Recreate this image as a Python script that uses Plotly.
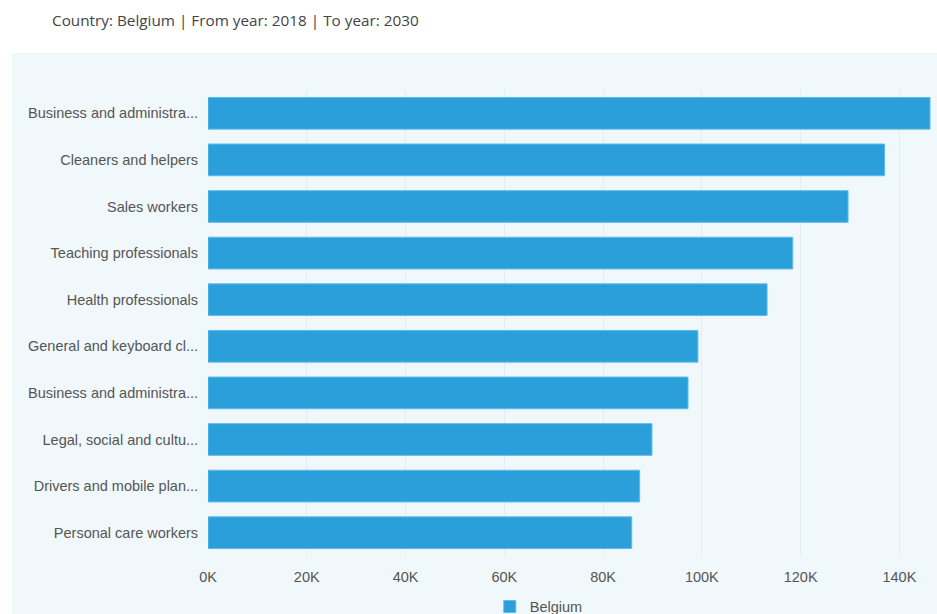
import plotly.graph_objects as go

# Occupations (full names) and the shortened labels shown on the axis
occupations = [
    "Business and administration associate professionals",
    "Cleaners and helpers",
    "Sales workers",
    "Teaching professionals",
    "Health professionals",
    "General and keyboard clerks",
    "Business and administration professionals",
    "Legal, social and cultural professionals",
    "Drivers and mobile plant operators",
    "Personal care workers",
]
labels = [
    "Business and administra...",
    "Cleaners and helpers",
    "Sales workers",
    "Teaching professionals",
    "Health professionals",
    "General and keyboard cl...",
    "Business and administra...",
    "Legal, social and cultu...",
    "Drivers and mobile plan...",
    "Personal care workers",
]
# Job openings, Belgium 2018-2030
openings = [146200, 137000, 129600, 118400, 113200, 99200, 97200, 89900, 87400, 85800]

x_ticks = [0, 20000, 40000, 60000, 80000, 100000, 120000, 140000]
x_ticklabels = ["0K", "20K", "40K", "60K", "80K", "100K", "120K", "140K"]

panel_bg = "#f1f8fc"
bar_color = "#2a9fda"
label_font = "Liberation Sans, Arial, sans-serif"

fig = go.Figure(
    go.Bar(
        x=openings,
        y=occupations,
        orientation="h",
        name="Belgium",
        marker=dict(color=bar_color, line=dict(color="#5fbbe8", width=1)),
        width=0.68,
    )
)

fig.update_layout(
    width=937,
    height=614,
    margin=dict(l=208, r=5, t=90, b=58, autoexpand=False),
    paper_bgcolor="white",
    plot_bgcolor=panel_bg,
    font=dict(family=label_font, size=14.5, color="#555555"),
    showlegend=True,
    legend=dict(
        orientation="h",
        xref="container",
        yref="container",
        x=0.575,
        xanchor="center",
        y=0.012,
        yanchor="middle",
        bgcolor="rgba(0,0,0,0)",
        font=dict(family=label_font, size=14.5, color="#555555"),
    ),
    shapes=[
        dict(
            type="rect",
            xref="paper",
            yref="paper",
            x0=-0.2707,
            x1=1.01,
            y0=-0.3,
            y1=1.0794,
            fillcolor=panel_bg,
            line=dict(width=0),
            layer="below",
        )
    ],
    annotations=[
        dict(
            text="Country: Belgium | From year: 2018 | To year: 2030",
            xref="paper",
            yref="paper",
            x=-0.218,
            y=1.150,
            xanchor="left",
            yanchor="middle",
            showarrow=False,
            font=dict(family="Open Sans, sans-serif", size=15.3, color="#444444"),
        )
    ],
)

fig.update_xaxes(
    range=[0, 146600],
    tickvals=x_ticks,
    ticktext=x_ticklabels,
    showgrid=True,
    gridcolor="#dfeef6",
    gridwidth=1,
    zeroline=False,
    showline=False,
    ticks="outside",
    ticklen=8,
    tickcolor="rgba(0,0,0,0)",
    tickfont=dict(family=label_font, size=14.5, color="#555555"),
)
fig.update_yaxes(
    tickvals=occupations,
    ticktext=labels,
    autorange="reversed",
    showgrid=False,
    zeroline=False,
    showline=False,
    ticks="outside",
    ticklen=6,
    tickcolor="rgba(0,0,0,0)",
    tickfont=dict(family=label_font, size=14.5, color="#555555"),
)

fig.write_html("out.html")
